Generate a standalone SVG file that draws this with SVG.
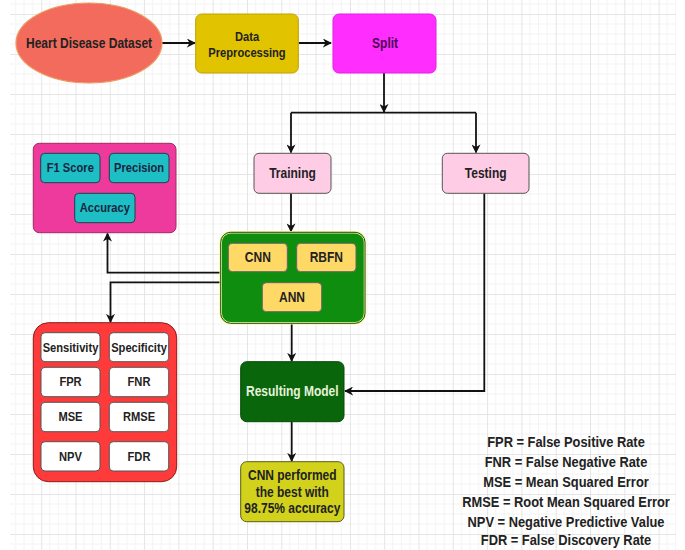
<svg xmlns="http://www.w3.org/2000/svg" width="685" height="550" viewBox="0 0 685 550">
<defs>
<pattern id="grid" patternUnits="userSpaceOnUse" x="6.9" y="14" width="34.3" height="40">
<path d="M8.575 0V40M17.15 0V40M25.725 0V40M0 10H34.3M0 20H34.3M0 30H34.3" stroke="#f4f4f4" stroke-width="1" fill="none"/>
<path d="M0.5 0V40M0 0.5H34.3" stroke="#e5e5e5" stroke-width="1" fill="none"/>
</pattern>
<marker id="arr" viewBox="0 0 10 10" refX="9" refY="5" markerWidth="9" markerHeight="9" markerUnits="userSpaceOnUse" orient="auto">
<path d="M0,0 L10,5 L0,10 L3,5 z" fill="#111"/>
</marker>
</defs>
<style>
text { font-family: "Liberation Sans", Arial, sans-serif; font-weight: bold; text-anchor: middle; fill: #222; transform-box: fill-box; transform-origin: center; transform: scaleX(0.8575); }
.c { fill: none; stroke: #111; stroke-width: 1.8; }
.ca { fill: none; stroke: #111; stroke-width: 1.8; marker-end: url(#arr); }
.f14 { font-size: 14px; }
.f13 { font-size: 13px; }
.f15 { font-size: 15px; }
.wbox { fill: #ffffff; stroke: #555; stroke-width: 1; }
.tbox { fill: #1dbec4; stroke: #243b4a; stroke-width: 1; }
.ybox { fill: #ffd966; stroke: #666; stroke-width: 1; }
</style>
<rect x="0" y="0" width="685" height="550" fill="#ffffff"/>
<rect x="10" y="0" width="666" height="550" fill="url(#grid)"/>

<g id="connectors">
<path class="ca" d="M162 43H195"/>
<path class="ca" d="M298.5 43H331"/>
<path class="ca" d="M384 73V112"/>
<path class="c" d="M291 112.7H476"/>
<path class="ca" d="M291 112.7V152.5"/>
<path class="ca" d="M476 112.7V152.5"/>
<path class="ca" d="M291 193.3V231.5"/>
<path class="ca" d="M221 272.7H107.5V233.5"/>
<path class="ca" d="M221 282.3H110.5V322"/>
<path class="ca" d="M291.7 323.3V361"/>
<path class="ca" d="M484.3 193.3V391H345"/>
<path class="ca" d="M291.7 421.7V461"/>
</g>

<g id="heart-disease-dataset">
<ellipse cx="89" cy="43" rx="73" ry="40" fill="#f26b5c" stroke="#eb9a5e" stroke-width="1.2"/>
<text class="f14" x="89" y="48">Heart Disease Dataset</text>
</g>

<g id="data-preprocessing">
<rect x="195.7" y="14" width="102.6" height="59" rx="6" fill="#e1c300" stroke="#bfa200" stroke-width="1"/>
<text class="f13" x="247" y="41.5">Data</text>
<text class="f13" x="247" y="57">Preprocessing</text>
</g>

<g id="split">
<rect x="333" y="14" width="103" height="59" rx="6" fill="#ff2eff" stroke="#e31ee3" stroke-width="1"/>
<text class="f14" x="385" y="48" style="fill:#4d0a55">Split</text>
</g>

<g id="training">
<rect x="254" y="153.3" width="77" height="40" rx="5" fill="#ffcce6" stroke="#555" stroke-width="1"/>
<text class="f14" x="292.5" y="178">Training</text>
</g>

<g id="testing">
<rect x="442.3" y="153.3" width="86.7" height="40" rx="5" fill="#ffcce6" stroke="#555" stroke-width="1"/>
<text class="f14" x="485.7" y="178">Testing</text>
</g>

<g id="metrics-group">
<rect x="33.3" y="143.3" width="142.7" height="89.4" rx="6" fill="#ef3a9d" stroke="#a02a62" stroke-width="1"/>
<rect class="tbox" x="40.7" y="153.3" width="59.3" height="29.4" rx="4"/>
<text class="f13" x="70.3" y="172.5" style="fill:#1a2540">F1 Score</text>
<rect class="tbox" x="109.3" y="153.3" width="59.7" height="29.4" rx="4"/>
<text class="f13" x="139.1" y="172.5" style="fill:#1a2540">Precision</text>
<rect class="tbox" x="74.7" y="193.3" width="60.3" height="29.4" rx="4"/>
<text class="f13" x="104.8" y="212.5" style="fill:#1a2540">Accuracy</text>
</g>

<g id="models">
<rect x="220.7" y="232.3" width="144.3" height="91" rx="10" fill="#0f8d0f" stroke="#f5f59a" stroke-width="2.5"/>
<rect x="220.7" y="232.3" width="144.3" height="91" rx="10" fill="none" stroke="#1c4d12" stroke-width="1"/>
<rect class="ybox" x="228.3" y="243.3" width="59" height="28.4" rx="4"/>
<text class="f14" x="257.8" y="262.5">CNN</text>
<rect class="ybox" x="296.7" y="243.3" width="59.3" height="28.4" rx="4"/>
<text class="f14" x="326.3" y="262.5">RBFN</text>
<rect class="ybox" x="262.3" y="282.7" width="59.4" height="29" rx="4"/>
<text class="f14" x="292" y="302">ANN</text>
</g>

<g id="error-metrics-group">
<rect x="33.3" y="322.7" width="143.4" height="159" rx="15" fill="#fe3a3a" stroke="#8c1a1a" stroke-width="1"/>
<rect class="wbox" x="41" y="332.7" width="59" height="29" rx="4"/>
<text class="f13" x="70.5" y="351.7">Sensitivity</text>
<rect class="wbox" x="109.3" y="332.7" width="59.4" height="29" rx="4"/>
<text class="f13" x="139" y="351.7">Specificity</text>
<rect class="wbox" x="41" y="367.3" width="59" height="29.4" rx="4"/>
<text class="f13" x="70.5" y="386.5">FPR</text>
<rect class="wbox" x="109.3" y="367.3" width="59.4" height="29.4" rx="4"/>
<text class="f13" x="139" y="386.5">FNR</text>
<rect class="wbox" x="41" y="402.3" width="59" height="29.4" rx="4"/>
<text class="f13" x="70.5" y="421.5">MSE</text>
<rect class="wbox" x="109.3" y="402.3" width="59.4" height="29.4" rx="4"/>
<text class="f13" x="139" y="421.5">RMSE</text>
<rect class="wbox" x="41" y="441.7" width="59" height="29.3" rx="4"/>
<text class="f13" x="70.5" y="461">NPV</text>
<rect class="wbox" x="109.3" y="441.7" width="59.4" height="29.3" rx="4"/>
<text class="f13" x="139" y="461">FDR</text>
</g>

<g id="resulting-model">
<rect x="240.7" y="361.7" width="103.3" height="60" rx="6" fill="#0a660a" stroke="#084808" stroke-width="1"/>
<text class="f14" x="292.3" y="396.5" style="fill:#e6f2dc">Resulting Model</text>
</g>

<g id="result">
<rect x="240.7" y="461.7" width="103.3" height="60" rx="6" fill="#d2d21c" stroke="#5c5c12" stroke-width="1"/>
<text class="f14" x="292.3" y="480">CNN performed</text>
<text class="f14" x="292.3" y="496.7">the best with</text>
<text class="f14" x="292.3" y="513.3">98.75% accuracy</text>
</g>

<g id="legend">
<text class="f15" x="566" y="447.5">FPR = False Positive Rate</text>
<text class="f15" x="566" y="467.5">FNR = False Negative Rate</text>
<text class="f15" x="566" y="487.5">MSE = Mean Squared Error</text>
<text class="f15" x="566" y="507.5">RMSE = Root Mean Squared Error</text>
<text class="f15" x="566" y="527">NPV = Negative Predictive Value</text>
<text class="f15" x="566" y="545.5">FDR = False Discovery Rate</text>
</g>
</svg>
